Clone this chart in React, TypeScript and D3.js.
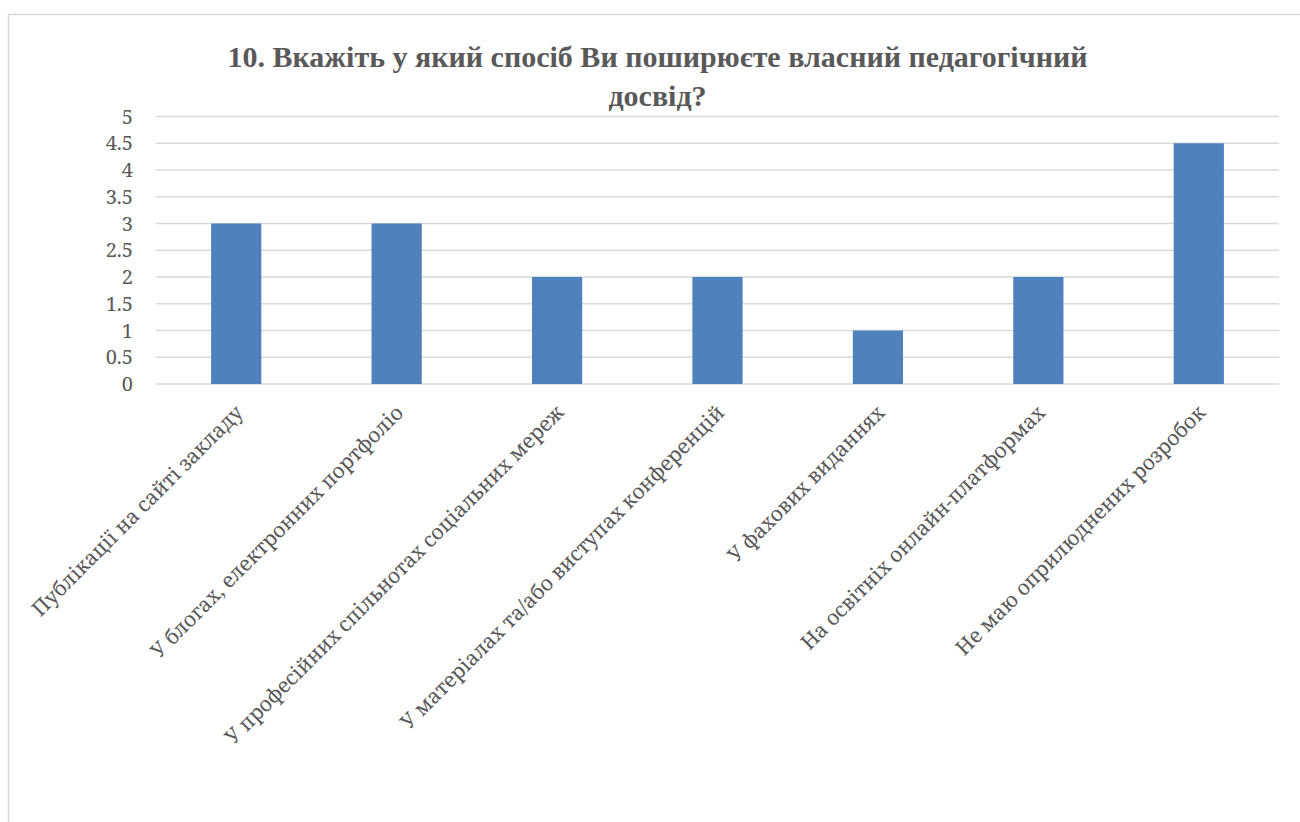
import React from "react";
import * as d3 from "d3";

const titleLines = ["10. Вкажіть у який спосіб Ви поширюєте власний педагогічний", "досвід?"];
const categories = [
  "Публікації на сайті закладу",
  "У блогах, електронних портфоліо",
  "У професійних спільнотах соціальних мереж",
  "У матеріалах та/або виступах конференцій",
  "У фахових виданнях",
  "На освітніх онлайн-платформах",
  "Не маю оприлюднених розробок",
];
const values = [3, 3, 2, 2, 1, 2, 4.5];
const yTicks = [0, 0.5, 1, 1.5, 2, 2.5, 3, 3.5, 4, 4.5, 5];

const W = 1300;
const H = 822;
const left = 156;
const right = 1279;
const top = 116.5;
const bottom = 384;
const textColor = "#595959";

export default function App() {
  const x = d3.scaleBand<string>().domain(categories).range([left, right]).padding(0);
  const y = d3.scaleLinear().domain([0, 5]).range([bottom, top]);
  const barW = x.bandwidth() * 0.313;
  return (
    <svg width={W} height={H} style={{ position: "absolute", left: 0, top: 0, display: "block" }}>
      <rect x={8.5} y={14.5} width={W} height={H} fill="none" stroke="#d9d9d9" strokeWidth={1.5} />
      {titleLines.map((t, i) => (
        <text
          key={i}
          x={657.5}
          y={67 + i * 39}
          textAnchor="middle"
          fontWeight="bold"
          fontSize={30}
          fill={textColor}
          style={{ fontFamily: '"Liberation Serif"' }}
        >
          {t}
        </text>
      ))}
      {yTicks.map((t) => (
        <g key={t}>
          <line x1={left} x2={right} y1={y(t)} y2={y(t)} stroke="#d9d9d9" strokeWidth={1.3} />
          <text
            x={133}
            y={y(t)}
            dy="0.36em"
            textAnchor="end"
            fontSize={20}
            fill={textColor}
            style={{ fontFamily: '"Noto Serif"' }}
          >
            {t}
          </text>
        </g>
      ))}
      {categories.map((c, i) => {
        const cx = (x(c) as number) + x.bandwidth() / 2;
        return (
          <g key={c}>
            <rect x={cx - barW / 2} y={y(values[i])} width={barW} height={y(0) - y(values[i])} fill="#4f81bd" />
            <text
              transform={`translate(${cx + 8},${414}) rotate(-45)`}
              textAnchor="end"
              fontSize={20.5}
              fill={textColor}
              style={{ fontFamily: '"Noto Serif"' }}
            >
              {c}
            </text>
          </g>
        );
      })}
    </svg>
  );
}
